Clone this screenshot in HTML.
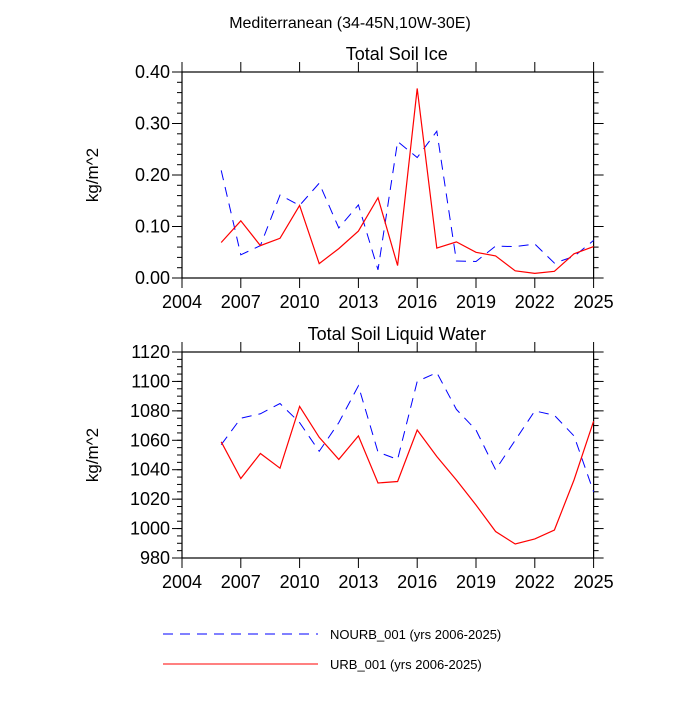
<!DOCTYPE html>
<html><head><meta charset="utf-8"><style>
body{margin:0;background:#fff;}
svg{font-family:"Liberation Sans",sans-serif;}
</style></head><body>
<svg id="chart" width="700" height="700" viewBox="0 0 700 700">
<text x="350" y="28" font-size="16" text-anchor="middle">Mediterranean (34-45N,10W-30E)</text>
<g id="legend">
<line x1="163" y1="634" x2="318" y2="634" stroke="#0000ff" stroke-width="1" stroke-dasharray="10,7"/>
<text x="330" y="639" font-size="13">NOURB_001 (yrs 2006-2025)</text>
<line x1="163" y1="664" x2="318" y2="664" stroke="#ff0000" stroke-width="1"/>
<text x="330" y="669" font-size="13">URB_001 (yrs 2006-2025)</text>
</g>
</svg>
<script>
const years=[2006,2007,2008,2009,2010,2011,2012,2013,2014,2015,2016,2017,2018,2019,2020,2021,2022,2023,2024,2025];
const iceUrb=[0.069,0.111,0.063,0.077,0.141,0.028,0.057,0.091,0.156,0.024,0.368,0.058,0.070,0.050,0.043,0.014,0.009,0.013,0.047,0.061];
const iceNourb=[0.209,0.045,0.063,0.161,0.141,0.184,0.097,0.142,0.016,0.265,0.234,0.285,0.033,0.032,0.062,0.061,0.066,0.029,0.042,0.073];
const liqUrb=[1059,1034,1051,1041,1083,1062,1047,1063,1031,1032,1067,1049,1033,1016,998,989.5,993,999,1033,1073];
const liqNourb=[1057,1075,1078,1085,1072,1052.5,1072,1097,1052,1047,1100,1106,1081,1067,1040,1060,1080,1077,1063,1025];
const xTicks=[2004,2007,2010,2013,2016,2019,2022,2025];
const iceTicks=["0.00","0.10","0.20","0.30","0.40"];
const liqTicks=[980,1000,1020,1040,1060,1080,1100,1120];

const NS="http://www.w3.org/2000/svg";
const svg=document.getElementById('chart');
function mk(tag,attrs,parent){const e=document.createElementNS(NS,tag);for(const k in attrs)e.setAttribute(k,attrs[k]);(parent||svg).appendChild(e);return e;}

function panel(name,title,top,bottom,ymin,ymax,yTicks,yMinorStep,urb,nourb){
  const L=182,R=593.6;
  const g=mk('g',{});
  
  
  const xs=v=>L+(v-2004)/(21)*(R-L);
  const ys=v=>bottom-(v-ymin)/(ymax-ymin)*(bottom-top);
  const fr=mk('rect',{x:L,y:top,width:R-L,height:bottom-top,fill:'none',stroke:'#000','stroke-width':1.2},g);
  
  
  // x ticks
  xTicks.forEach(t=>{
    const x=xs(t);
    mk('line',{x1:x,y1:bottom,x2:x,y2:bottom+10,stroke:'#000','stroke-width':1},g);
    mk('line',{x1:x,y1:top,x2:x,y2:top-10,stroke:'#000','stroke-width':1},g);
    const tx=mk('text',{x:x,y:bottom+30,'font-size':18,'text-anchor':'middle'},g);
    tx.textContent=t;
    
    
  });
  // y minor ticks
  for(let v=ymin;v<=ymax+1e-9;v+=yMinorStep){
    const y=ys(v);
    mk('line',{x1:L,y1:y,x2:L-5,y2:y,stroke:'#000','stroke-width':1},g);
    mk('line',{x1:R,y1:y,x2:R+5,y2:y,stroke:'#000','stroke-width':1},g);
  }
  yTicks.forEach(t=>{
    const y=ys(parseFloat(t));
    mk('line',{x1:L,y1:y,x2:L-10,y2:y,stroke:'#000','stroke-width':1},g);
    mk('line',{x1:R,y1:y,x2:R+10,y2:y,stroke:'#000','stroke-width':1},g);
    const tx=mk('text',{x:L-12,y:y+6,'font-size':18,'text-anchor':'end'},g);
    tx.textContent=t;
    
    
  });
  const yt=mk('text',{x:0,y:0,'font-size':17,'text-anchor':'middle',transform:`translate(98,${(top+bottom)/2}) rotate(-90)`},g);
  yt.textContent='kg/m^2';
  
  
  const tt=mk('text',{x:(L+R)/2+9,y:top-12,'font-size':18,'text-anchor':'middle'},g);
  tt.textContent=title;
  
  
  const pts=a=>a.map((v,i)=>xs(years[i]).toFixed(1)+','+ys(v).toFixed(1)).join(' ');
  const nl=mk('polyline',{points:pts(nourb),fill:'none',stroke:'#0000ff','stroke-width':1,'stroke-dasharray':'10,7'},g);
  
  
  const ul=mk('polyline',{points:pts(urb),fill:'none',stroke:'#ff0000','stroke-width':1.2},g);
  
  
}
panel('soil-ice','Total Soil Ice',72,278,0,0.4,iceTicks,0.02,iceUrb,iceNourb);
panel('soil-liquid','Total Soil Liquid Water',352,558,980,1120,liqTicks.map(String),5,liqUrb,liqNourb);
</script>
</body></html>
